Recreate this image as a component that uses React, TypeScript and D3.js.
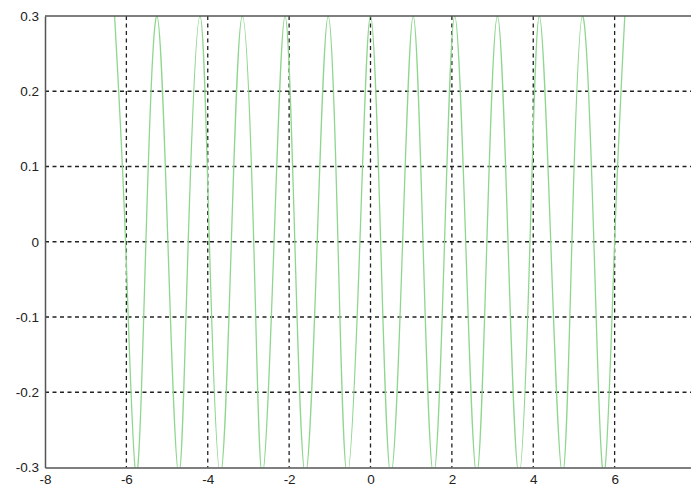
import React, { useEffect, useRef } from "react";
import * as d3 from "d3";

const WIDTH = 691;
const HEIGHT = 488;
const MARGIN = { LEFT: 45, RIGHT: -5, TOP: 16, BOTTOM: 20.5 };

const xTicks = [-8, -6, -4, -2, 0, 2, 4, 6];
const yTicks = [-0.3, -0.2, -0.1, 0, 0.1, 0.2, 0.3];

// positions
const peakX = [-6.29, -5.25, -4.19, -3.15, -2.1, -1.04, 0, 1.05, 2.07, 3.12, 4.15, 5.21, 6.25];
const troughX = [-5.76, -4.71, -3.69, -2.66, -1.6, -0.57, 0.5, 1.55, 2.61, 3.65, 4.72, 5.74];
const zeroX = [
  -6.02, -5.52, -4.98, -4.48, -3.96, -3.42, -2.87, -2.37, -1.86, -1.31, -0.8, -0.26,
  0.25, 0.79, 1.29, 1.82, 2.34, 2.86, 3.38, 3.92, 4.43, 4.95, 5.49, 6.0,
];
const PEAK = 0.3;
const TROUGH = -0.31;

const FONT = "'Liberation Sans', Arial, sans-serif";

export default function App() {
  const ref = useRef<SVGSVGElement>(null);

  useEffect(() => {
    const svg = d3.select(ref.current);
    svg.selectAll("*").remove();

    const x = d3.scaleLinear().domain([-8, 8]).range([MARGIN.LEFT, WIDTH - MARGIN.RIGHT]);
    const y = d3.scaleLinear().domain([-0.3, 0.3]).range([HEIGHT - MARGIN.BOTTOM, MARGIN.TOP]);

    const points = [
      ...peakX.map((v) => [v, PEAK]),
      ...troughX.map((v) => [v, TROUGH]),
      ...zeroX.map((v) => [v, 0]),
    ].sort((a, b) => a[0] - b[0]) as [number, number][];

    svg
      .append("clipPath")
      .attr("id", "plot-clip")
      .append("rect")
      .attr("x", x(-8))
      .attr("y", y(0.3))
      .attr("width", x(8) - x(-8))
      .attr("height", y(-0.3) - y(0.3));

    // grid
    const grid = svg.append("g").attr("stroke", "#222").attr("stroke-width", 1.3).attr("stroke-dasharray", "4,3.5");
    grid
      .selectAll("line.vx")
      .data(xTicks.filter((d) => d > -8))
      .enter()
      .append("line")
      .attr("x1", (d) => x(d))
      .attr("x2", (d) => x(d))
      .attr("y1", y(0.3))
      .attr("y2", y(-0.3));
    grid
      .selectAll("line.hy")
      .data(yTicks.filter((d) => d > -0.3 && d < 0.3))
      .enter()
      .append("line")
      .attr("x1", x(-8))
      .attr("x2", x(8))
      .attr("y1", (d) => y(d))
      .attr("y2", (d) => y(d));

    // curve
    const line = d3
      .line<[number, number]>()
      .x((d) => x(d[0]))
      .y((d) => y(d[1]))
      .curve(d3.curveNatural);
    svg
      .append("path")
      .attr("d", line(points))
      .attr("fill", "none")
      .attr("stroke", "#8fd68f")
      .attr("stroke-width", 1.3)
      .attr("clip-path", "url(#plot-clip)");

    // axes
    const yAxis = svg
      .append("g")
      .attr("transform", `translate(${MARGIN.LEFT},0)`)
      .call(d3.axisLeft(y).tickValues(yTicks).tickSize(0).tickPadding(6).tickFormat((d) => String(d)));
    const xAxis = svg
      .append("g")
      .attr("transform", `translate(0,${HEIGHT - MARGIN.BOTTOM})`)
      .call(d3.axisBottom(x).tickValues(xTicks).tickSize(0).tickPadding(7).tickFormat((d) => String(d)));

    [yAxis, xAxis].forEach((a) => {
      a.select(".domain").attr("stroke", "#555").attr("stroke-width", 1.5);
      a.selectAll("text").attr("font-family", FONT).attr("font-size", 13.5).attr("fill", "#222");
    });

    svg
      .append("line")
      .attr("x1", x(-8))
      .attr("x2", x(8))
      .attr("y1", y(0.3))
      .attr("y2", y(0.3))
      .attr("stroke", "#555")
      .attr("stroke-width", 1.5);
  }, []);

  return (
    <svg
      ref={ref}
      width={WIDTH}
      height={HEIGHT}
      style={{ position: "absolute", left: 0, top: 0, background: "#fff" }}
    />
  );
}
